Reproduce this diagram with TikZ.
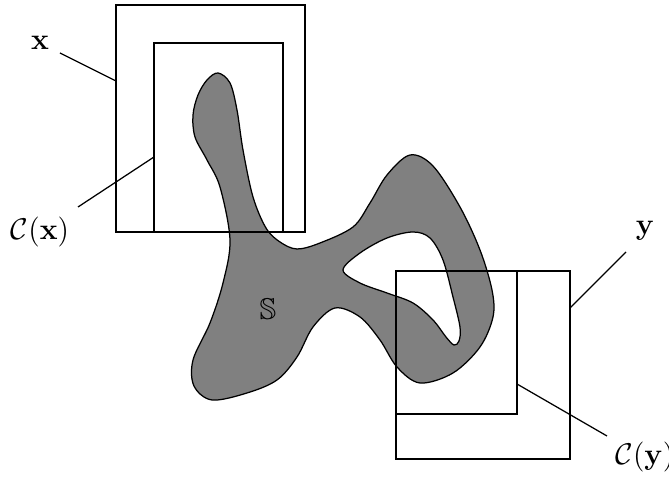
\documentclass[tikz,border=0pt]{standalone}
\usepackage{amssymb}
\begin{document}
\begin{tikzpicture}[x=0.4pt,y=-0.4pt,
  box/.style={draw=black,line width=0.5pt},
  leader/.style={draw=black,line width=0.5pt},
  lbl/.style={inner sep=0pt,font=\large}]
\useasboundingbox (0,0) rectangle (669,477);
% blob
\path[fill=gray,draw=black,line width=0.5pt,even odd rule]
  plot[smooth cycle,tension=0.55] coordinates {
   (218,73) (230,83) (237,110) (243,150) (253,197) (266,228) (280,242) (297,249)
   (320,243) (353,227) (370,203) (387,175) (410,155) (433,166) (460,207) (480,250)
   (492,290) (493,317) (480,347) (453,373) (420,383) (397,367) (380,340) (360,317)
   (335,308) (313,327) (297,357) (277,380) (247,393) (212,400) (194,386) (193,360)
   (210,323) (223,283) (230,240) (220,187) (207,160) (195,137) (193,115) (198,95) (207,80)}
  plot[smooth cycle,tension=0.55] coordinates {
   (343,270) (360,253) (387,238) (413,232) (430,238) (443,260) (453,297) (460,327)
   (459,341) (454,345) (446,337) (433,320) (413,303) (387,293) (360,283)};
\node[lbl] (S) at (268,309) {$\mathbb{S}$};
% x boxes
\draw[box] (116,5) rectangle (305,232);
\draw[box] (154,43) rectangle (283,232);
\coordinate (xo) at (116,81);
\coordinate (xi) at (154,157);
\node[lbl] (xl) at (40,43) {$\mathbf{x}$};
\node[lbl] (cxl) at (40,232) {$\mathcal{C}(\mathbf{x})$};
\coordinate (xlp) at (60,53);
\coordinate (cxlp) at (78,207);
\draw[leader] (xlp) -- (xo);
\draw[leader] (cxlp) -- (xi);
% y boxes
\draw[box] (396,271) rectangle (570,459);
\draw[box] (396,271) rectangle (517,414);
\coordinate (yo) at (570,308);
\coordinate (yi) at (517,384);
\node[lbl] (yl) at (645,231) {$\mathbf{y}$};
\node[lbl,anchor=west] (cyl) at (615,457) {$\mathcal{C}(\mathbf{y})$};
\coordinate (ylp) at (626,252);
\coordinate (cylp) at (607,436);
\draw[leader] (ylp) -- (yo);
\draw[leader] (cylp) -- (yi);
\end{tikzpicture}
\end{document}
